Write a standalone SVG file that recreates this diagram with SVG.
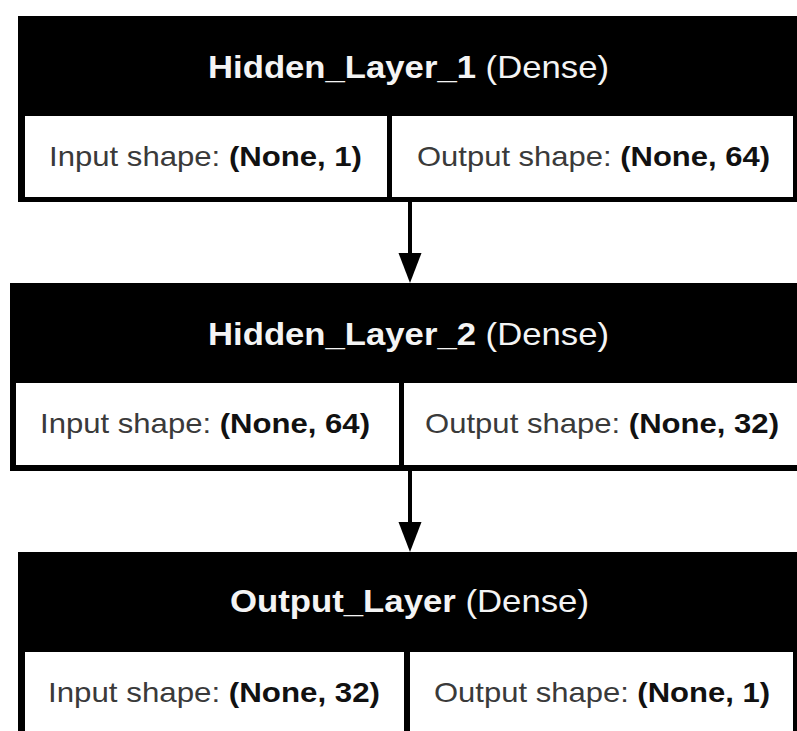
<svg xmlns="http://www.w3.org/2000/svg" width="797" height="731" viewBox="0 0 797 731">
<style>
.box{fill:#000}
.cell{fill:#fff}
.title{font-family:"Liberation Sans",Arial,sans-serif;font-size:32px;fill:#f4f4f4;text-anchor:middle}
.row{font-family:"Liberation Sans",Arial,sans-serif;font-size:28px;fill:#3a3a3a;text-anchor:middle}
.b{font-weight:bold}
.row .b{fill:#111}
.edge{stroke:#000;stroke-width:4;fill:none}
</style>
<defs>
<marker id="ah" markerUnits="userSpaceOnUse" markerWidth="31" markerHeight="24" refX="17" refY="11.5" orient="auto" viewBox="0 0 31 24">
<path d="M0,0 L30,11.5 L0,23 z" fill="#000"/>
</marker>
</defs>
<rect width="797" height="731" fill="#fff"/>
<g id="edges">
<line class="edge" x1="410" y1="202" x2="410" y2="270" marker-end="url(#ah)"/>
<line class="edge" x1="410" y1="471" x2="410" y2="539" marker-end="url(#ah)"/>
</g>
<g id="hidden_layer_1">
<rect class="box" x="18" y="16" width="780" height="186"/>
<rect class="cell" x="25" y="116" width="362" height="81"/>
<rect class="cell" x="392" y="116" width="401" height="81"/>
<text class="title" x="408.5" y="78" textLength="401" lengthAdjust="spacingAndGlyphs"><tspan class="b">Hidden_Layer_1</tspan> (Dense)</text>
<text class="row" x="205.5" y="166" textLength="313" lengthAdjust="spacingAndGlyphs">Input shape: <tspan class="b">(None, 1)</tspan></text>
<text class="row" x="593.5" y="166" textLength="353" lengthAdjust="spacingAndGlyphs">Output shape: <tspan class="b">(None, 64)</tspan></text>
</g>
<g id="hidden_layer_2">
<rect class="box" x="10" y="283" width="797" height="188"/>
<rect class="cell" x="16" y="383" width="383" height="82"/>
<rect class="cell" x="404" y="383" width="400" height="82"/>
<text class="title" x="408.5" y="345" textLength="401" lengthAdjust="spacingAndGlyphs"><tspan class="b">Hidden_Layer_2</tspan> (Dense)</text>
<text class="row" x="205" y="433" textLength="330" lengthAdjust="spacingAndGlyphs">Input shape: <tspan class="b">(None, 64)</tspan></text>
<text class="row" x="602" y="433" textLength="354" lengthAdjust="spacingAndGlyphs">Output shape: <tspan class="b">(None, 32)</tspan></text>
</g>
<g id="output_layer">
<rect class="box" x="18" y="552" width="780" height="190"/>
<rect class="cell" x="25" y="652" width="379" height="100"/>
<rect class="cell" x="410" y="652" width="383" height="100"/>
<text class="title" x="409.5" y="612" textLength="359" lengthAdjust="spacingAndGlyphs"><tspan class="b">Output_Layer</tspan> (Dense)</text>
<text class="row" x="214" y="702" textLength="332" lengthAdjust="spacingAndGlyphs">Input shape: <tspan class="b">(None, 32)</tspan></text>
<text class="row" x="602" y="702" textLength="336" lengthAdjust="spacingAndGlyphs">Output shape: <tspan class="b">(None, 1)</tspan></text>
</g>
</svg>
